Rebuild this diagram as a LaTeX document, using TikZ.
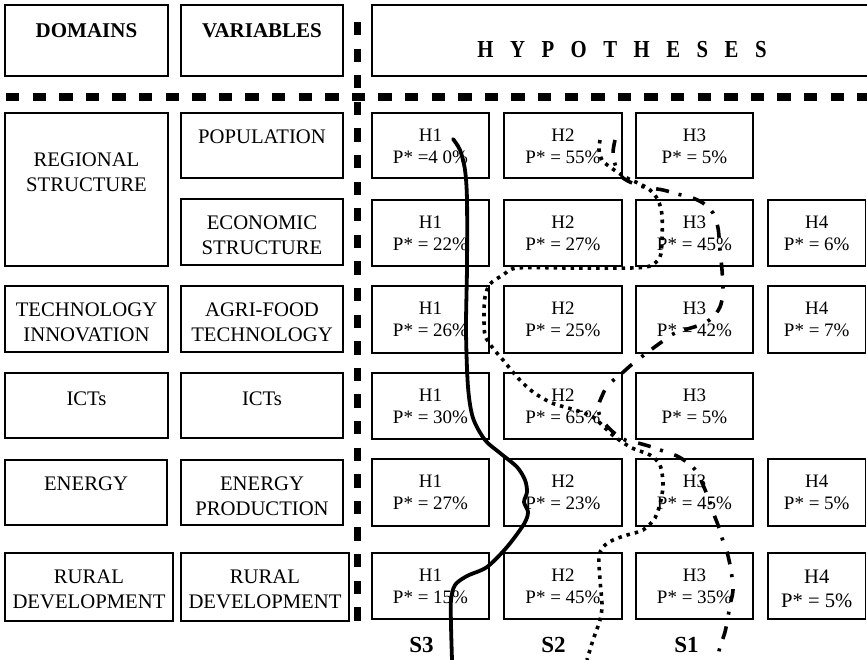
\documentclass[tikz,border=0pt]{standalone}
\usepackage{fontspec}
\setmainfont{Liberation Serif}
\newfontfamily\narrowserif[FakeStretch=0.85]{Liberation Serif}
\usetikzlibrary{calc}

\tikzset{
  cell/.style={draw, line width=1.3pt, inner sep=0pt, outer sep=0pt, anchor=north west},
  lbl/.style={inner sep=0pt, align=center, anchor=north, font=\fontsize{20.7}{25}\selectfont},
  hlbl/.style={inner sep=0pt, align=center, anchor=north, font=\fontsize{19}{22}\selectfont},
  biglbl/.style={inner sep=0pt, align=center, anchor=north, font=\fontsize{20.6}{24}\selectfont},
  headlbl/.style={lbl, font=\bfseries\fontsize{21}{25}\selectfont},
  divider/.style={line width=7.5pt, dash pattern=on 13.3pt off 13.3pt},
  scenSthree/.style={line width=3.8pt, line cap=round, line join=round},
  scenStwo/.style={line width=3.6pt, dash pattern=on 3.5pt off 5pt},
  scenSone/.style={line width=3.6pt, dash pattern=on 13pt off 10pt on 3pt off 12pt},
  slabel/.style={inner sep=0pt, font=\bfseries\fontsize{23}{25}\selectfont},
}

% box with its text: name, left, top, width, height, text style, text offset, text
\newcommand\cellbox[8]{%
  \node[cell, minimum width=#4pt, minimum height=#5pt] (#1) at (#2,#3) {};
  \node[#6] (#1-text) at ([yshift=-#7pt]#1.north) {#8};}

% letter-spaced heading
\newcommand\spaced{\hspace{16.5pt}}

\begin{document}
\begin{tikzpicture}[x=1pt, y=-1pt]
\useasboundingbox (0,0) rectangle (867,660);

% dashed dividers
\coordinate (hdiv-w) at (6,97);
\coordinate (hdiv-e) at (867,97);
\coordinate (vdiv-n) at (357.5,22);
\coordinate (vdiv-s) at (357.5,623);
\draw[divider] (hdiv-w) -- (hdiv-e);
\draw[divider] (vdiv-n) -- (vdiv-s);

% header row
\cellbox{dom}{5}{5}{163}{71}{headlbl}{18}{DOMAINS}
\cellbox{var}{181}{5}{162}{71}{headlbl}{18}{VARIABLES}
\node[cell, minimum width=520pt, minimum height=71pt] (hyp) at (372,5) {};
\node[inner sep=0pt, font=\narrowserif\bfseries\fontsize{24.4}{26}\selectfont] (hyp-text) at (622,50)
  {H\spaced Y\spaced P\spaced O\spaced T\spaced H\spaced E\spaced S\spaced E\spaced S};

% domains
\cellbox{d1}{5}{113}{163}{153}{lbl}{40}{REGIONAL\\STRUCTURE}
\cellbox{d2}{5}{286}{163}{66}{lbl}{17}{TECHNOLOGY\\INNOVATION}
\cellbox{d3}{5}{373}{163}{65}{lbl}{18.5}{ICTs}
\cellbox{d4}{5}{460}{162}{65}{lbl}{17}{ENERGY}
\cellbox{d5}{5}{553}{168}{68}{lbl}{17}{RURAL\\DEVELOPMENT}

% variables
\cellbox{v1}{181}{113}{162}{65}{lbl}{17}{POPULATION}
\cellbox{v2}{181}{199}{162}{66}{lbl}{17}{ECONOMIC\\STRUCTURE}
\cellbox{v3}{181}{286}{162}{66}{lbl}{17}{AGRI-FOOD\\TECHNOLOGY}
\cellbox{v4}{181}{373}{162}{65}{lbl}{18.5}{ICTs}
\cellbox{v5}{181}{460}{162}{65}{lbl}{17}{ENERGY\\PRODUCTION}
\cellbox{v6}{181}{553}{168}{68}{lbl}{17}{RURAL\\DEVELOPMENT}

% hypotheses grid
\cellbox{h11}{372}{113}{117}{65}{hlbl}{16}{H1\\P* =4 0\%}
\cellbox{h12}{504}{113}{118}{65}{hlbl}{16}{H2\\P* = 55\%}
\cellbox{h13}{636}{113}{117}{65}{hlbl}{16}{H3\\P* = 5\%}

\cellbox{h21}{372}{200}{117}{66}{hlbl}{16}{H1\\P* = 22\%}
\cellbox{h22}{504}{200}{118}{66}{hlbl}{16}{H2\\P* = 27\%}
\cellbox{h23}{636}{200}{117}{66}{hlbl}{16}{H3\\P* = 45\%}
\cellbox{h24}{768}{200}{97.5}{66}{hlbl}{16}{H4\\P* = 6\%}

\cellbox{h31}{372}{286}{117}{67}{hlbl}{16}{H1\\P* = 26\%}
\cellbox{h32}{504}{286}{118}{67}{hlbl}{16}{H2\\P* = 25\%}
\cellbox{h33}{636}{286}{117}{67}{hlbl}{16}{H3\\P* = 42\%}
\cellbox{h34}{768}{286}{97.5}{67}{hlbl}{16}{H4\\P* = 7\%}

\cellbox{h41}{372}{373}{117}{66}{hlbl}{16}{H1\\P* = 30\%}
\cellbox{h42}{504}{373}{118}{66}{hlbl}{16}{H2\\P* = 65\%}
\cellbox{h43}{636}{373}{117}{66}{hlbl}{16}{H3\\P* = 5\%}

\cellbox{h51}{372}{459}{117}{67}{hlbl}{16}{H1\\P* = 27\%}
\cellbox{h52}{504}{459}{118}{67}{hlbl}{16}{H2\\P* = 23\%}
\cellbox{h53}{636}{459}{117}{67}{hlbl}{16}{H3\\P* = 45\%}
\cellbox{h54}{768}{459}{97.5}{67}{hlbl}{16}{H4\\P* = 5\%}

\cellbox{h61}{372}{553}{117}{66}{hlbl}{16}{H1\\P* = 15\%}
\cellbox{h62}{504}{553}{118}{66}{hlbl}{16}{H2\\P* = 45\%}
\cellbox{h63}{636}{553}{117}{66}{hlbl}{16}{H3\\P* = 35\%}
\cellbox{h64}{768}{553}{97.5}{66}{biglbl}{17}{H4\\P* = 5\%}

% scenario S3 (solid)
\draw[scenSthree] plot[smooth, tension=0.5] coordinates {
  (453,139) (460,150) (465,170) (467,200) (467,267) (466,330) (468,387)
  (473,418) (485,440) (500,453) (517,467) (525,480) (527,492) (524,502)
  (528,512) (524,524) (507,547) (487,567) (467,576) (455,585) (451,600)
  (451,625) (452,660)};

% scenario S2 (dotted)
\draw[scenStwo] plot[smooth, tension=0.5] coordinates {
  (600,140) (599,150) (602,160) (610,167) (625,177) (640,184) (650,190)
  (658,200) (662,215) (662,240) (660,257) (650,266) (630,268) (570,268)
  (517,268) (503,275) (490,284) (485,297) (484,315) (485,335) (492,347)
  (503,360) (518,378) (533,392) (552,403) (575,410) (593,417) (605,428)
  (615,437) (632,448) (650,455) (660,465) (663,483) (661,500) (655,518)
  (643,530) (627,535) (613,540) (603,547) (599,557) (600,580) (602,605)
  (600,620) (593,640) (587,660)};

% scenario S1 (dash-dot)
\draw[scenSone] plot[smooth, tension=0.5] coordinates {
  (615,140) (613,153) (616,167) (623,178) (640,186) (663,190) (677,194)
  (690,197) (703,203) (713,213) (718,228) (720,250) (722,270) (723,292)
  (720,307) (712,318) (700,325) (675,333) (663,341) (652,349) (640,358)
  (630,366) (620,375) (608,385) (602,396) (598,408) (602,420) (613,432)
  (625,440) (638,443) (652,447) (663,451) (677,456) (688,463) (697,472)
  (703,485) (708,497) (713,512) (718,525) (722,538) (727,552) (731,570)
  (733,590) (730,605) (728,617) (725,632) (720,647) (717,660)};

% scenario labels
\node[slabel] (sthree) at (421.5,644.5) {S3};
\node[slabel] (stwo) at (553.5,644.5) {S2};
\node[slabel] (sone) at (686.5,644.5) {S1};
\end{tikzpicture}
\end{document}
